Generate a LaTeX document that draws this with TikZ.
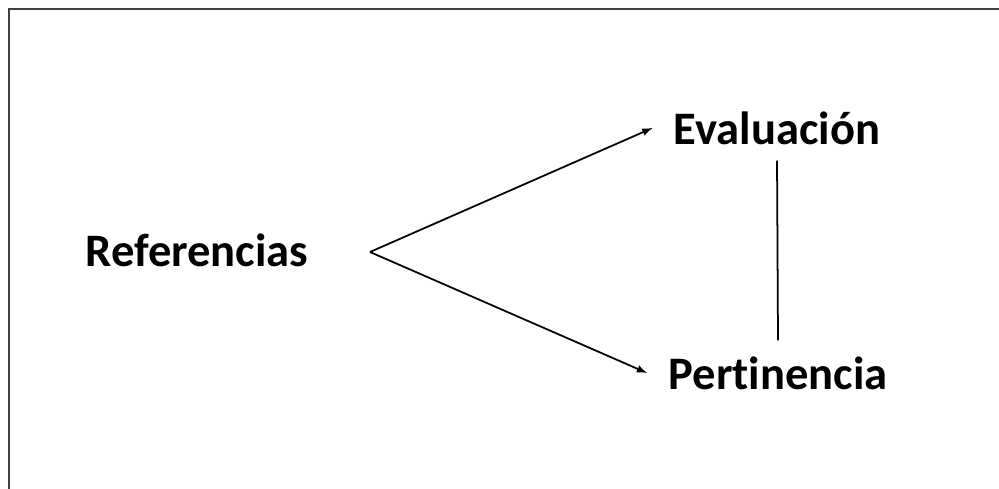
\documentclass[tikz,border=0pt]{standalone}
\usepackage{fontspec}
\setmainfont[Ligatures=NoCommon]{Carlito}
\usetikzlibrary{arrows}

\tikzset{
  concept/.style={font=\fontsize{26.5}{30}\selectfont\bfseries, inner xsep=12pt, inner ysep=9pt},
}

\begin{document}
\begin{tikzpicture}[x=0.02cm, y=-0.02cm, >=latex]
  \useasboundingbox (0,0) rectangle (999,489);
  %\draw[very thin,color=gray,step=50] (0,0) grid (999,489);
  \draw[line width=1.2pt, black!75] (9,489) -- (9,9) -- (999,9);
  \node[concept] (ref) at (197,250) {Referencias};
  \node[concept] (eva) at (777,128) {Evaluación};
  \node[concept] (per) at (778,373) {Pertinencia};
  \coordinate (split) at (370,252);
  \draw[->, line width=1pt] (split) -- (eva.west);
  \draw[->, line width=1pt] (split) -- (per.west);
  \draw[line width=1pt] (eva.south) -- (per.north);
\end{tikzpicture}
\end{document}
